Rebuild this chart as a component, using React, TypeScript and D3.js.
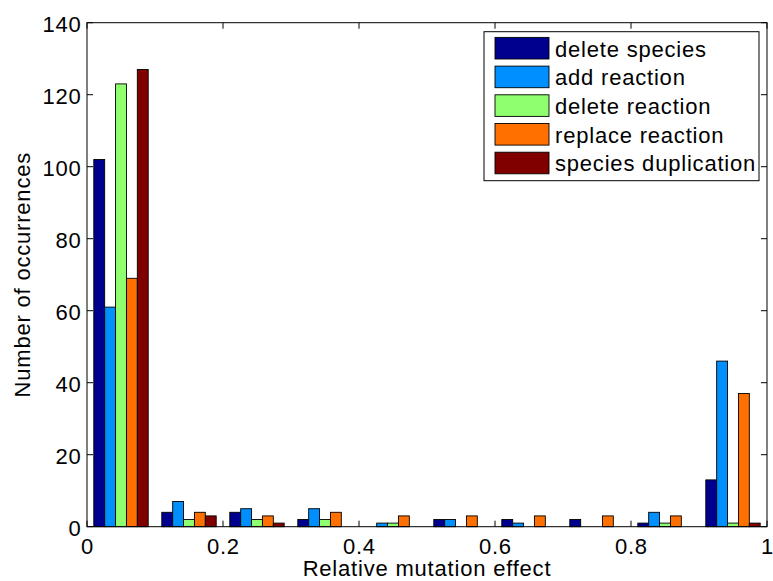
import { useEffect, useRef } from 'react'
import * as d3 from 'd3'

const seriesNames = ['delete species', 'add reaction', 'delete reaction', 'replace reaction', 'species duplication']
const colors = ['#00008F', '#008FFF', '#8FFF70', '#FF7000', '#800000']
const binCenters = [0.05, 0.15, 0.25, 0.35, 0.45, 0.55, 0.65, 0.75, 0.85, 0.95]
const deleteSpecies = [102, 4, 4, 2, 0, 2, 2, 2, 1, 13]
const addReaction = [61, 7, 5, 5, 1, 2, 1, 0, 4, 46]
const deleteReaction = [123, 2, 2, 2, 1, 0, 0, 0, 1, 1]
const replaceReaction = [69, 4, 3, 4, 3, 3, 3, 3, 3, 37]
const speciesDuplication = [127, 3, 1, 0, 0, 0, 0, 0, 0, 1]
const xTicks = [0, 0.2, 0.4, 0.6, 0.8, 1]
const yTicks = [0, 20, 40, 60, 80, 100, 120, 140]

const series = [deleteSpecies, addReaction, deleteReaction, replaceReaction, speciesDuplication]

export default function App() {
  const ref = useRef<SVGSVGElement>(null)

  useEffect(() => {
    const el = ref.current
    if (!el) return
    const w = 773, h = 581
    const m = { left: 87, right: 6, top: 22.7, bottom: 54.3 }
    const iw = w - m.left - m.right
    const ih = h - m.top - m.bottom
    const font = 'Liberation Sans, Arial, Helvetica, sans-serif'
    const fs = 22
    const ls = 0.8

    const svg = d3.select(el)
    svg.selectAll('*').remove()
    svg.append('rect').attr('width', w).attr('height', h).attr('fill', '#fff')

    const g = svg.append('g').attr('transform', `translate(${m.left},${m.top})`)
    const x = d3.scaleLinear().domain([0, 1]).range([0, iw])
    const y = d3.scaleLinear().domain([0, 140]).range([ih, 0])

    // grouped bars, group width 0.8 of bin spacing
    const spacing = binCenters[1] - binCenters[0]
    const groupW = spacing * 0.8
    const band = d3.scaleBand<number>().domain(d3.range(series.length)).range([0, groupW])

    series.forEach((vals, si) => {
      g.append('g').selectAll('rect').data(vals).join('rect')
        .attr('x', (_, i) => x(binCenters[i] - groupW / 2 + band(si)!))
        .attr('width', x(band.bandwidth()) - x(0))
        .attr('y', d => y(d))
        .attr('height', d => y(0) - y(d))
        .attr('fill', colors[si])
        .attr('stroke', '#000').attr('stroke-width', 0.9)
    })

    // frame
    g.append('rect').attr('width', iw).attr('height', ih)
      .attr('fill', 'none').attr('stroke', '#000').attr('stroke-width', 1)

    const tl = 6
    const txt = (sel: d3.Selection<SVGTextElement, unknown, null, undefined>) =>
      sel.attr('font-family', font).attr('font-size', fs).attr('letter-spacing', ls).attr('fill', '#000')

    // x ticks
    xTicks.forEach(t => {
      g.append('line').attr('x1', x(t)).attr('x2', x(t)).attr('y1', ih).attr('y2', ih - tl).attr('stroke', '#000')
      g.append('line').attr('x1', x(t)).attr('x2', x(t)).attr('y1', 0).attr('y2', tl).attr('stroke', '#000')
      g.append('text').attr('x', x(t) + ls / 2).attr('y', ih + 27)
        .attr('text-anchor', 'middle').call(txt)
        .text(String(t))
    })
    // y ticks
    yTicks.forEach(t => {
      g.append('line').attr('x1', 0).attr('x2', tl).attr('y1', y(t)).attr('y2', y(t)).attr('stroke', '#000')
      g.append('line').attr('x1', iw).attr('x2', iw - tl).attr('y1', y(t)).attr('y2', y(t)).attr('stroke', '#000')
      g.append('text').attr('x', -5.5).attr('y', y(t) + 9)
        .attr('text-anchor', 'end').call(txt)
        .text(String(t))
    })

    // axis labels
    svg.append('text').attr('x', m.left + iw / 2).attr('y', 576.3)
      .attr('text-anchor', 'middle').call(txt)
      .text('Relative mutation effect')
    svg.append('text').attr('transform', `translate(30,${m.top + ih / 2}) rotate(-90)`)
      .attr('text-anchor', 'middle').call(txt)
      .text('Number of occurrences')

    // legend
    const lg = svg.append('g').attr('transform', 'translate(484,31.7)')
    lg.append('rect').attr('width', 275).attr('height', 149)
      .attr('fill', '#fff').attr('stroke', '#000').attr('stroke-width', 1)
    seriesNames.forEach((name, i) => {
      const cy = 16.5 + i * 28.7
      lg.append('rect').attr('x', 11).attr('y', cy - 10.8).attr('width', 54).attr('height', 21.6)
        .attr('fill', colors[i]).attr('stroke', '#000').attr('stroke-width', 0.9)
      lg.append('text').attr('x', 71).attr('y', cy + 8.5).call(txt).text(name)
    })
  }, [])

  return (
    <div style={{ position: 'absolute', left: 0, top: 0 }}>
      <svg ref={ref} width={773} height={581} style={{ display: 'block' }} />
    </div>
  )
}
